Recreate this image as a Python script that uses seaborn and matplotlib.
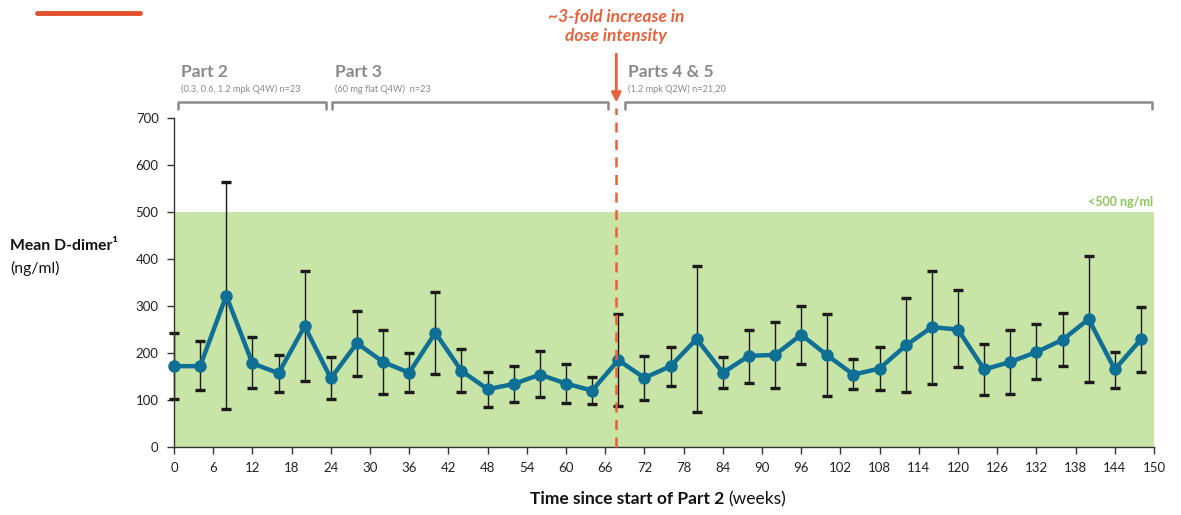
import matplotlib
matplotlib.use("Agg")
import matplotlib.pyplot as plt
from matplotlib.lines import Line2D
import seaborn as sns
import pandas as pd

# ---- data ----
weeks = [0, 4, 8, 12, 16, 20, 24, 28, 32, 36, 40, 44, 48, 52, 56, 60, 64, 68, 72,
         76, 80, 84, 88, 92, 96, 100, 104, 108, 112, 116, 120, 124, 128, 132, 136,
         140, 144, 148]
mean_ddimer = [172, 172, 322, 178, 157, 257, 146, 221, 181, 158, 243, 162, 123, 134,
               154, 135, 120, 185, 147, 172, 230, 158, 194, 196, 239, 195, 154, 167,
               216, 255, 250, 165, 181, 202, 228, 272, 165, 229]
upper_ci = [243, 226, 564, 233, 196, 374, 191, 290, 248, 199, 329, 209, 160, 172, 205,
            177, 150, 282, 194, 213, 385, 191, 249, 266, 301, 282, 187, 212, 316, 375,
            333, 219, 250, 261, 285, 406, 202, 297]
lower_ci = [103, 121, 81, 126, 118, 141, 103, 152, 112, 118, 156, 117, 86, 96, 106, 94,
            91, 88, 101, 130, 74, 126, 137, 126, 177, 108, 123, 121, 117, 133, 170, 110,
            113, 144, 172, 138, 126, 160]
x_ticks = [0, 6, 12, 18, 24, 30, 36, 42, 48, 54, 60, 66, 72, 78, 84, 90, 96, 102, 108,
           114, 120, 126, 132, 138, 144, 150]
y_ticks = [0, 100, 200, 300, 400, 500, 600, 700]
threshold = 500
dose_change_week = 67.7
parts = ["Part 2", "Part 3", "Parts 4 & 5"]
part_notes = ["(0.3, 0.6, 1.2 mpk Q4W) n=23", "(60 mg flat Q4W)  n=23", "(1.2 mpk Q2W) n=21,20"]
part_spans = [(0.6, 23.3), (24.2, 66.4), (69.0, 149.7)]

df = pd.DataFrame({"week": weeks, "mean": mean_ddimer})

sns.set_theme(style="white")
plt.rcParams["font.family"] = ["Lato", "DejaVu Sans"]

fig = plt.figure(figsize=(11.81, 5.15), dpi=100)
ax = fig.add_axes([174 / 1181, 1 - 447 / 515, 980 / 1181, 329 / 515])

orange = "#e8613a"
teal = "#0f6f95"
grey = "#8a8a8a"

# green normal-range band
ax.axhspan(0, threshold, xmin=0, xmax=1.002, color="#c8e4a6", zorder=0, lw=0)
ax.text(149.8, threshold + 8, "<500 ng/ml", color="#8cc65a", fontsize=9,
        fontweight="bold", ha="right", va="bottom")

# error bars
yerr = [[m - l for m, l in zip(mean_ddimer, lower_ci)],
        [u - m for m, u in zip(mean_ddimer, upper_ci)]]
eb = ax.errorbar(weeks, mean_ddimer, yerr=yerr, fmt="none", ecolor="#1a1a1a",
                 elinewidth=1.0, capsize=3.6, capthick=2.4, zorder=2)
for art in eb.lines[1] + eb.lines[2]:
    art.set_clip_on(False)

# mean line
sns.lineplot(data=df, x="week", y="mean", ax=ax, color=teal, linewidth=3.2,
             marker="o", markersize=9, markeredgewidth=0, zorder=3)
for l in ax.lines:
    l.set_clip_on(False)

# dose change line and annotation
ax.plot([dose_change_week, dose_change_week], [0, 722], color=orange, lw=1.8,
        ls=(0, (4, 3)), clip_on=False, zorder=4)
ax.annotate("", xy=(dose_change_week, 733), xytext=(dose_change_week, 836),
            arrowprops=dict(arrowstyle="-|>", color=orange, lw=2,
                            mutation_scale=14, shrinkA=0, shrinkB=0),
            annotation_clip=False)
ax.text(dose_change_week, 895, "~3-fold increase in\ndose intensity", color=orange,
        fontsize=12.5, fontweight="bold", fontstyle="italic", ha="center", va="center",
        linespacing=1.25)

# part brackets
for name, note, (a, b) in zip(parts, part_notes, part_spans):
    ax.plot([a, a, b, b], [720, 735, 735, 720], color=grey, lw=1.8, clip_on=False,
            solid_joinstyle="round")
    ax.text(a + 0.5, 797, name, color=grey, fontsize=12.5, fontweight="bold",
            ha="left", va="center")
    ax.text(a + 0.5, 761, note, color=grey, fontsize=6.6, ha="left", va="center")

# axes styling
ax.set_xlim(0, 150)
ax.set_ylim(0, 700)
ax.set_xticks(x_ticks)
ax.set_yticks(y_ticks)
ax.set_xticklabels([str(t) for t in x_ticks], fontsize=9.5, color="#222222",
                   fontstretch="condensed")
ax.set_yticklabels([str(t) for t in y_ticks], fontsize=9.5, color="#222222")
ax.tick_params(axis="both", direction="out", length=5, width=1, color="#333333",
               bottom=True, left=True, pad=6)
for s in ["top", "right"]:
    ax.spines[s].set_visible(False)
for s in ["left", "bottom"]:
    ax.spines[s].set_color("#333333")
    ax.spines[s].set_linewidth(1.0)
ax.set_xlabel("")
ax.set_ylabel("")

# y label
fig.text(10 / 1181, 1 - 246 / 515, "Mean D-dimer\u00b9", fontsize=11.3,
         fontweight="bold", ha="left", va="center", color="#111111")
fig.text(10 / 1181, 1 - 268 / 515, "(ng/ml)", fontsize=11.3, ha="left",
         va="center", color="#111111")

# x label
fig.text(724 / 1181, 1 - 499 / 515, "Time since start of Part 2", fontsize=12.5,
         fontweight="bold", ha="right", va="center", color="#111111")
fig.text(728 / 1181, 1 - 499 / 515, "(weeks)", fontsize=12.5, ha="left",
         va="center", color="#111111")

# decorative header rule
fig.add_artist(Line2D([37 / 1181, 140 / 1181], [1 - 13 / 515, 1 - 13 / 515],
                      color="#e2512b", lw=3.5))

fig.savefig("out.png", dpi=100)
